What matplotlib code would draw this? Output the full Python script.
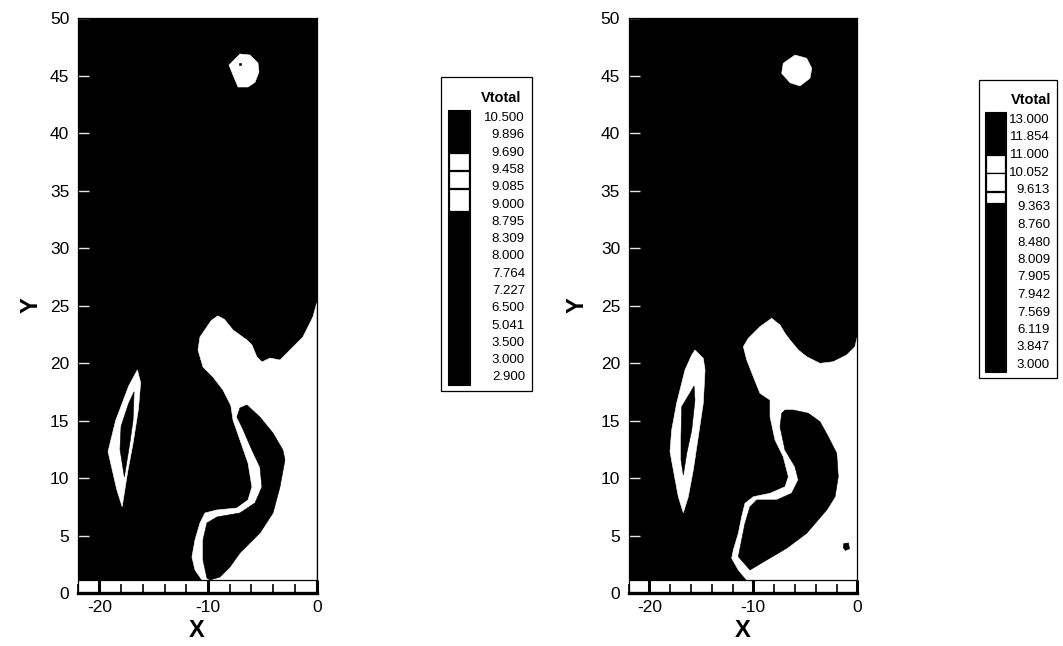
import matplotlib
matplotlib.use("Agg")
import matplotlib.pyplot as plt
from matplotlib.patches import Polygon, Rectangle

plt.rcParams['font.family'] = ['Liberation Sans', 'DejaVu Sans']
plt.rcParams['axes.unicode_minus'] = False

# ---- contour levels shown in the two legends ----
levels_left = [10.500, 9.896, 9.690, 9.458, 9.085, 9.000, 8.795, 8.309,
               8.000, 7.764, 7.227, 6.500, 5.041, 3.500, 3.000, 2.900]
levels_right = [13.000, 11.854, 11.000, 10.052, 9.613, 9.363, 8.760, 8.480,
                8.009, 7.905, 7.942, 7.569, 6.119, 3.847, 3.000]

# legend rows (index into the level list) painted white
white_rows_left = [(2.0, 3.0), (3.05, 4.05), (4.1, 5.4)]
white_rows_right = [(2.0, 3.0), (3.05, 4.05), (4.1, 4.72)]

x_ticks_major = [-20, -10, 0]
y_ticks_major = [0, 5, 10, 15, 20, 25, 30, 35, 40, 45, 50]

# ---- flooded Vtotal field: white bands on a black background (x, y) ----
# left case
left_cap = [(-7.06, 46.87), (-6.14, 46.78), (-5.40, 46.09), (-5.31, 45.30),
            (-5.68, 44.40), (-6.32, 44.00), (-7.24, 44.00), (-7.70, 45.04),
            (-8.07, 45.91)]
left_cap_dot = [(-7.15, 46.1), (-6.95, 46.1), (-6.95, 45.9), (-7.15, 45.9)]
left_lens = [(-16.5, 19.4), (-16.2, 18.3), (-16.4, 16.0), (-16.9, 13.0),
             (-17.4, 10.5), (-17.9, 7.5), (-18.4, 9.0), (-19.2, 12.3),
             (-18.5, 15.0), (-17.3, 18.0)]
left_lens_core = [(-16.8, 17.5), (-16.9, 15.0), (-17.2, 13.0), (-17.7, 10.1),
                  (-18.1, 12.5), (-18.0, 14.5), (-17.3, 16.5)]
left_wake = [(-10.56, 1.13), (-11.20, 2.00), (-11.48, 3.13), (-11.20, 4.61),
             (-10.74, 6.09), (-10.28, 6.96), (-9.18, 7.22), (-7.34, 7.39),
             (-6.32, 8.09), (-5.96, 9.22), (-6.32, 11.30), (-7.06, 13.30),
             (-7.70, 15.04), (-7.90, 16.30), (-8.62, 17.65), (-9.54, 18.78),
             (-10.46, 19.65), (-10.92, 21.13), (-10.74, 22.26), (-9.70, 23.70),
             (-9.10, 24.10), (-8.50, 23.80), (-7.70, 22.87), (-6.42, 22.00),
             (-5.96, 21.57), (-5.50, 20.52), (-5.04, 20.09), (-4.30, 20.43),
             (-3.38, 20.26), (-2.46, 21.13), (-1.27, 22.26), (-0.35, 24.00),
             (0.0, 25.20), (0.0, 1.13)]
left_core = [(-7.06, 16.09), (-7.34, 15.30), (-6.88, 14.43), (-5.96, 12.43),
             (-5.22, 10.96), (-5.04, 9.22), (-5.68, 7.83), (-7.06, 6.96),
             (-9.18, 6.61), (-10.10, 6.09), (-10.46, 4.61), (-10.46, 2.87),
             (-10.10, 1.30), (-9.82, 1.13), (-8.90, 1.39), (-7.98, 2.26),
             (-7.06, 3.48), (-5.22, 5.22), (-4.02, 6.96), (-3.38, 9.22),
             (-2.92, 11.57), (-3.11, 12.43), (-4.02, 13.91), (-5.22, 15.30),
             (-6.42, 16.35)]

# right case
right_cap = [(-7.12, 46.06), (-5.99, 46.78), (-4.87, 46.50), (-4.38, 45.63),
             (-4.55, 44.76), (-5.51, 44.09), (-6.47, 44.37), (-7.27, 45.19)]
right_lens = [(-15.61, 21.13), (-14.81, 20.41), (-14.64, 19.39), (-14.81, 16.50),
              (-15.29, 13.59), (-15.77, 10.70), (-16.25, 8.37), (-16.73, 6.98),
              (-17.21, 8.37), (-17.69, 10.70), (-18.01, 12.29), (-17.85, 14.17),
              (-17.37, 16.50), (-16.57, 19.39), (-15.92, 20.70)]
right_lens_core = [(-15.70, 18.00), (-15.61, 16.78), (-15.92, 14.17),
                   (-16.40, 12.15), (-16.73, 10.26), (-16.95, 11.57),
                   (-16.95, 13.59), (-16.88, 16.20), (-16.40, 16.93),
                   (-15.92, 17.65)]
right_wake = [(-10.63, 1.13), (-11.44, 2.00), (-12.08, 3.02), (-11.92, 3.74),
              (-11.44, 5.19), (-11.12, 6.63), (-10.80, 7.80), (-10.00, 8.37),
              (-8.39, 8.67), (-6.95, 9.24), (-6.63, 10.11), (-7.12, 11.85),
              (-7.91, 13.30), (-8.39, 15.33), (-8.39, 16.78), (-9.36, 17.37),
              (-10.00, 18.81), (-10.63, 20.26), (-10.96, 21.42), (-10.48, 22.15),
              (-9.36, 23.16), (-8.23, 23.89), (-7.43, 23.30), (-6.95, 22.58),
              (-6.47, 22.00), (-5.67, 21.13), (-4.87, 20.55), (-3.59, 19.97),
              (-2.31, 20.11), (-1.02, 20.70), (-0.22, 21.42), (0.0, 22.29),
              (0.0, 1.13)]
right_core = [(-7.27, 15.63), (-7.43, 14.46), (-6.95, 12.43), (-5.99, 10.98),
              (-5.67, 9.83), (-6.31, 8.67), (-7.75, 8.09), (-9.67, 8.09),
              (-10.32, 7.50), (-10.80, 6.06), (-11.12, 4.61), (-11.44, 3.16),
              (-10.32, 2.00), (-8.71, 2.87), (-6.79, 3.89), (-4.87, 5.19),
              (-2.94, 7.22), (-2.14, 8.37), (-1.83, 10.11), (-1.98, 12.15),
              (-2.79, 13.59), (-3.59, 14.90), (-4.71, 15.63), (-6.15, 15.91),
              (-6.95, 15.91)]
right_speck = [(-1.30, 4.30), (-0.85, 4.35), (-0.75, 3.85), (-1.15, 3.70),
               (-1.35, 3.95)]

X_RANGE = (-22, 0)
Y_RANGE = (0, 50)
FIELD_BOTTOM = 1.13

W, H = 1063, 646
fig = plt.figure(figsize=(W / 100, H / 100), dpi=100)


def axes_px(x0, x1, y_top, y_bot):
    return fig.add_axes([x0 / W, 1 - y_bot / H, (x1 - x0) / W, (y_bot - y_top) / H])


def draw_panel(ax, whites, blacks, ylabel_pad):
    ax.set_xlim(*X_RANGE)
    ax.set_ylim(*Y_RANGE)
    ax.set_facecolor('white')
    ax.add_patch(Rectangle((X_RANGE[0], FIELD_BOTTOM), X_RANGE[1] - X_RANGE[0],
                           Y_RANGE[1] - FIELD_BOTTOM, facecolor='black',
                           edgecolor='none', zorder=1))
    for poly in whites:
        ax.add_patch(Polygon(poly, closed=True, facecolor='white',
                             edgecolor='white', lw=0.4, zorder=2))
    for poly in blacks:
        ax.add_patch(Polygon(poly, closed=True, facecolor='black',
                             edgecolor='black', lw=0.4, zorder=3))
    ax.axhline(FIELD_BOTTOM, color='black', lw=0.9, zorder=4)

    ax.set_xticks(x_ticks_major)
    ax.set_xticks(range(-22, 1, 2), minor=True)
    ax.set_yticks(y_ticks_major)
    ax.tick_params(axis='x', which='major', direction='in', length=9.2, width=2.2,
                   color='black', labelsize=12.5, pad=5)
    ax.tick_params(axis='x', which='minor', direction='in', length=6.5, width=1.2,
                   color='black')
    ax.tick_params(axis='y', which='major', direction='in', length=8, width=1.0,
                   color='#e6e6e6', labelsize=12.5, pad=6)
    for side in ('left', 'right', 'top'):
        ax.spines[side].set_linewidth(0.9)
    ax.spines['bottom'].set_linewidth(2.4)
    for sp in ax.spines.values():
        sp.set_zorder(6)
    ax.set_xlabel('X', fontsize=17, fontweight='bold', labelpad=3)
    ax.set_ylabel('Y', fontsize=17, fontweight='bold', labelpad=ylabel_pad)


ax_l = axes_px(77.6, 316.7, 18, 593)
draw_panel(ax_l, [left_cap, left_lens, left_wake],
           [left_cap_dot, left_lens_core, left_core], ylabel_pad=5)

ax_r = axes_px(628.5, 857.3, 18, 593)
draw_panel(ax_r, [right_cap, right_lens, right_wake],
           [right_lens_core, right_core, right_speck], ylabel_pad=9)

# ---- legends, laid out in figure pixels ----
ax_leg = fig.add_axes([0, 0, 1, 1], zorder=10)
ax_leg.set_xlim(0, W)
ax_leg.set_ylim(H, 0)
ax_leg.axis('off')
ax_leg.patch.set_alpha(0)


def draw_legend(levels, white_rows, box_left, box_right, box_top, first_row,
                row_step, col_left, col_right, text_right, title_x):
    n = len(levels)
    last_row = first_row + (n - 1) * row_step
    box_bottom = last_row + 13
    ax_leg.add_patch(Rectangle((box_left, box_top), box_right - box_left,
                               box_bottom - box_top, facecolor='white',
                               edgecolor='black', lw=0.9))
    ax_leg.text(title_x, first_row - 20, 'Vtotal', fontsize=10.5,
                fontweight='bold', ha='left', va='center')
    col_top = first_row - 8
    col_bot = last_row + 7
    ax_leg.add_patch(Rectangle((col_left, col_top), col_right - col_left,
                               col_bot - col_top, facecolor='black',
                               edgecolor='black', lw=0.8))
    for r0, r1 in white_rows:
        y0 = first_row + r0 * row_step
        y1 = first_row + r1 * row_step
        ax_leg.add_patch(Rectangle((col_left + 0.6, y0), col_right - col_left - 1.2,
                                   y1 - y0, facecolor='white', edgecolor='black',
                                   lw=0.9))
    for i, v in enumerate(levels):
        ax_leg.text(text_right, first_row + i * row_step, f'{v:.3f}',
                    fontsize=9.5, ha='right', va='center')


draw_legend(levels_left, white_rows_left, box_left=441, box_right=532,
            box_top=77, first_row=118, row_step=17.3, col_left=448,
            col_right=470, text_right=525, title_x=481)
draw_legend(levels_right, white_rows_right, box_left=979, box_right=1057,
            box_top=80, first_row=120, row_step=17.5, col_left=985,
            col_right=1006, text_right=1050, title_x=1011)

fig.savefig('out.png', dpi=100)
